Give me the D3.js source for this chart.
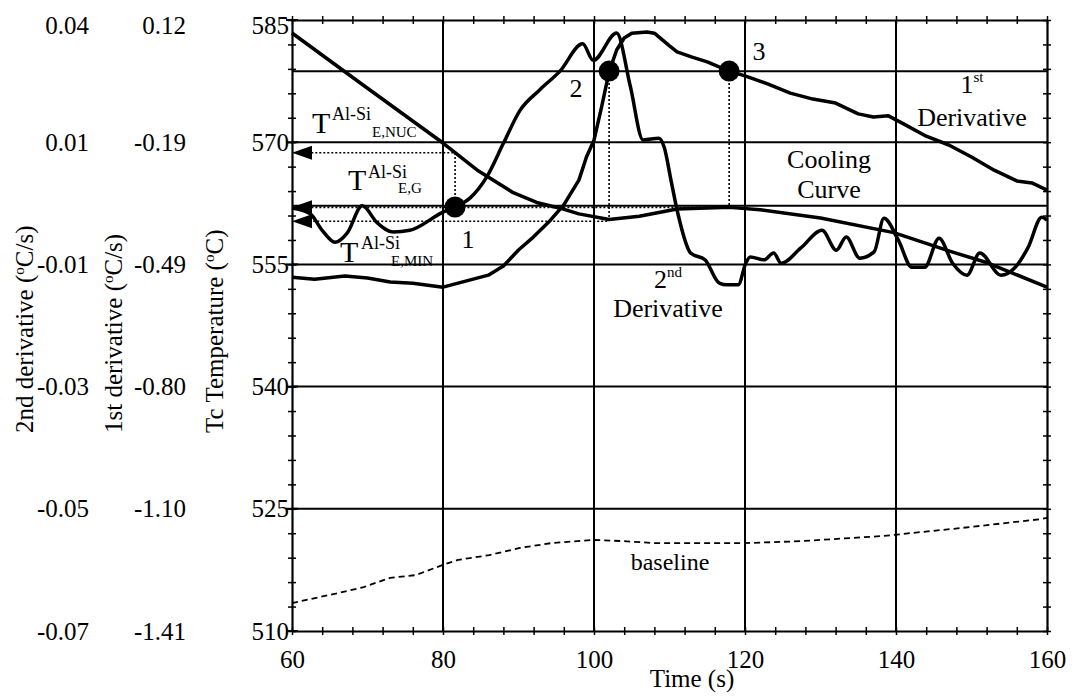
<!DOCTYPE html>
<html>
<head>
<meta charset="utf-8">
<script src="https://cdn.jsdelivr.net/npm/d3@7"></script>
<style>
body { margin: 0; background: #fff; }
text { font-family: "Liberation Serif", "Times New Roman", serif; fill: #000; }
</style>
</head>
<body>
<svg id="chart" width="1078" height="697"></svg>
<script>
// axis ticks and labels
var tempTicks = [510, 525, 540, 555, 570, 585];
var d1Labels = ["-1.41", "-1.10", "-0.80", "-0.49", "-0.19", "0.12"];
var d2Labels = ["-0.07", "-0.05", "-0.03", "-0.01", "0.01", "0.04"];
var timeTicks = [60, 80, 100, 120, 140, 160];

// cooling curve (degC)
var coolTime = [60, 69, 80, 84.5, 89.3, 92.4, 95.5, 98, 102, 106, 111, 118, 122, 130, 139.7, 147.2, 152.1, 160];
var coolTemp = [583.4, 577.3, 569.9, 566.6, 563.8, 562.6, 561.9, 561.2, 560.5, 560.9, 561.8, 562.0, 561.7, 560.7, 558.9, 556.6, 555.2, 552.2];

// 1st derivative (degC/s)
var d1Time = [60, 63, 67, 70, 73, 76, 80, 83, 86, 88, 90, 92, 94, 96, 98, 99, 100, 101, 102, 103,
  104, 105, 107, 108, 110, 111, 113, 115, 117.9, 120, 123, 126, 129, 132, 135, 137, 139, 141, 144, 147,
  150, 153, 156, 158, 160];
var d1Value = [-0.524, -0.529, -0.521, -0.526, -0.536, -0.539, -0.549, -0.534, -0.519, -0.496,
  -0.456, -0.423, -0.386, -0.343, -0.281, -0.223, -0.181, -0.098, -0.010, 0.045,
  0.075, 0.087, 0.090, 0.087, 0.055, 0.040, 0.027, 0.015, -0.008, -0.020,
  -0.040, -0.063, -0.078, -0.088, -0.115, -0.123, -0.120, -0.140, -0.171, -0.193,
  -0.223, -0.256, -0.283, -0.288, -0.306];

// 2nd derivative (degC/s2)
var d2Time = [60, 62.4, 64, 65.7, 67.3, 69.3, 71.3, 73.4, 75.6, 80,
  81.6, 83.6, 85.8, 88, 90.2, 92.8, 95.5, 98.5, 99.9, 103,
  104.8, 106.5, 108.6, 109.3, 110.2, 111.1, 112.8, 114.7, 116.6, 117.6,
  119.1, 120.1, 120.7, 122.5, 123.8, 124.8, 127.4, 130.2, 132.1, 133.4,
  135.2, 137.1, 138.4, 140.3, 142.1, 143.8, 145.7, 147.5, 149.4, 151.1,
  153.9, 155.8, 157.5, 159.3, 160];
var d2Value = [0.0029, 0.0019, -0.0010, -0.0031, -0.0015, 0.0033, 0.0003, -0.0013, -0.0010, 0.0022,
  0.0031, 0.0047, 0.0084, 0.0143, 0.0201, 0.0237, 0.0270, 0.0318, 0.0289, 0.0337,
  0.0244, 0.0149, 0.0152, 0.0136, 0.0078, 0.0020, -0.0050, -0.0062, -0.0103, -0.0106,
  -0.0106, -0.0068, -0.0057, -0.0062, -0.0050, -0.0068, -0.0041, -0.0010, -0.0045, -0.0022,
  -0.0059, -0.0048, 0.0011, -0.0027, -0.0075, -0.0075, -0.0024, -0.0068, -0.0089, -0.0050,
  -0.0089, -0.0075, -0.0040, 0.0013, 0.0008];

// baseline of the 1st derivative (degC/s)
var baseTime = [60, 66.1, 69.5, 73, 76.4, 79.9, 82, 86.1, 90.2, 94.3, 99.9, 104, 108.1, 119.9, 127.4, 138.4, 141.9, 148.7, 159.1, 160];
var baseValue = [-1.340, -1.315, -1.300, -1.277, -1.270, -1.245, -1.232, -1.220, -1.202, -1.190,
  -1.182, -1.185, -1.190, -1.190, -1.185, -1.172, -1.165, -1.152, -1.130, -1.127];

// characteristic points 1, 2, 3 and their eutectic temperatures (NUC, MIN, G)
var markerTime = [81.6, 102.0, 117.9];
var markerSeries = ["d2", "d1", "d1"];
var markerValue = [0.0031, -0.008, -0.008];
var eutTemp = [568.7, 560.3, 562.0];
var refTemps = [578.7, 562.2];

var svg = d3.select("#chart");

var x = d3.scaleLinear().domain([60, 160]).range([292, 1047]);
var y = d3.scaleLinear().domain([510, 585]).range([631, 20]);
var yD1 = d3.scaleLinear().domain([-1.41, 0.12]).range([631, 20]);
var yD2 = d3.scaleLinear().domain([-0.0715, 0.036]).range([631, 20]);

var minorX = d3.range(60, 160.1, 4);
var minorY = d3.range(510, 585.1, 3);

// grid
var grid = svg.append("g").attr("stroke", "#000").attr("stroke-width", 2);
grid.selectAll("line.v").data(timeTicks.slice(1, -1)).enter().append("line")
  .attr("x1", d => x(d)).attr("x2", d => x(d)).attr("y1", y(585)).attr("y2", y(510));
grid.selectAll("line.h").data(tempTicks.slice(1, -1).concat(refTemps)).enter().append("line")
  .attr("x1", x(60)).attr("x2", x(160)).attr("y1", d => y(d)).attr("y2", d => y(d));

// frame axes with crossing minor ticks
function crossTicks(g, attr, len) {
  g.selectAll(".tick line").attr(attr, -len);
  g.selectAll(".tick text").remove();
  g.select(".domain").attr("stroke-width", 2.2);
}
svg.append("g").attr("transform", "translate(0," + y(510) + ")")
  .call(d3.axisBottom(x).tickValues(minorX).tickSize(4).tickSizeOuter(0)).call(crossTicks, "y1", 4);
svg.append("g").attr("transform", "translate(0," + y(585) + ")")
  .call(d3.axisTop(x).tickValues(minorX).tickSize(4).tickSizeOuter(0)).call(crossTicks, "y1", -4);
svg.append("g").attr("transform", "translate(" + x(60) + ",0)")
  .call(d3.axisLeft(y).tickValues(minorY).tickSize(4).tickSizeOuter(0)).call(crossTicks, "x1", -4);
svg.append("g").attr("transform", "translate(" + x(160) + ",0)")
  .call(d3.axisRight(y).tickValues(minorY).tickSize(4).tickSizeOuter(0)).call(crossTicks, "x1", 4);
svg.selectAll(".tick line").attr("stroke-width", 1.5);

// major ticks crossing the left axis
svg.append("g").selectAll("line").data(tempTicks).enter().append("line")
  .attr("x1", x(60) - 6).attr("x2", x(60) + 6).attr("y1", d => y(d)).attr("y2", d => y(d))
  .attr("stroke", "#000").attr("stroke-width", 2);

// tick labels
function labelAxis(g, size) {
  g.select(".domain").remove();
  g.selectAll(".tick line").remove();
  g.selectAll(".tick text").style("font-size", size + "px").attr("fill", "#000");
}
svg.append("g").attr("transform", "translate(0," + y(510) + ")")
  .call(d3.axisBottom(x).tickValues(timeTicks).tickSize(0).tickPadding(19)).call(labelAxis, 25);
svg.append("g").attr("transform", "translate(289,0)")
  .call(d3.axisLeft(y).tickValues(tempTicks).tickSize(0).tickPadding(0)).call(labelAxis, 25);
svg.append("g").attr("transform", "translate(186,0)")
  .call(d3.axisLeft(y).tickValues(tempTicks).tickSize(0).tickPadding(0)
    .tickFormat((d, i) => d1Labels[i])).call(labelAxis, 25);
svg.append("g").attr("transform", "translate(89,0)")
  .call(d3.axisLeft(y).tickValues(tempTicks).tickSize(0).tickPadding(0)
    .tickFormat((d, i) => d2Labels[i])).call(labelAxis, 25);
// the top row of labels sits a little below the frame
svg.selectAll(".tick").filter(d => d === 585).selectAll("text").attr("dy", "0.52em");

// axis titles
function rotTitle(tx, parts) {
  var t = svg.append("text").attr("transform", "translate(" + tx + ",433) rotate(-90)")
    .attr("text-anchor", "start").style("font-size", "25px");
  t.append("tspan").text(parts[0]);
  t.append("tspan").attr("dy", -9).style("font-size", "15px").text("o");
  t.append("tspan").attr("dy", 9).text(parts[1]);
}
rotTitle(33, ["2nd derivative (", "C/s)"]);
rotTitle(122, ["1st derivative (", "C/s)"]);
rotTitle(223, ["Tc Temperature (", "C)"]);
svg.append("text").attr("x", 692).attr("y", 687).attr("text-anchor", "middle")
  .style("font-size", "25px").text("Time (s)");

// curves
var curves = svg.append("g").attr("fill", "none").attr("stroke", "#000")
  .attr("stroke-linejoin", "round");
curves.append("path").datum(d3.zip(baseTime, baseValue))
  .attr("d", d3.line().x(d => x(d[0])).y(d => yD1(d[1])))
  .attr("stroke-width", 1.8).attr("stroke-dasharray", "6,4");
curves.append("path").datum(d3.zip(coolTime, coolTemp))
  .attr("d", d3.line().x(d => x(d[0])).y(d => y(d[1]))).attr("stroke-width", 3.5);
curves.append("path").datum(d3.zip(d1Time, d1Value))
  .attr("d", d3.line().x(d => x(d[0])).y(d => yD1(d[1]))).attr("stroke-width", 3.5);
curves.append("path").datum(d3.zip(d2Time, d2Value))
  .attr("d", d3.line().curve(d3.curveMonotoneX).x(d => x(d[0])).y(d => yD2(d[1])))
  .attr("stroke-width", 3.5);

// projections of the characteristic points
function markerY(i) {
  return markerSeries[i] === "d1" ? yD1(markerValue[i]) : yD2(markerValue[i]);
}
var ann = svg.append("g");
markerTime.forEach(function (t, i) {
  var px = x(t), py = markerY(i), ty = y(eutTemp[i]);
  ann.append("path")
    .attr("d", "M" + px + "," + py + "V" + ty + "H" + (x(60) + 20))
    .attr("fill", "none").attr("stroke", "#000").attr("stroke-width", 1.6)
    .attr("stroke-dasharray", "2,2");
  ann.append("path")
    .attr("d", "M" + x(60) + "," + ty + "L" + (x(60) + 20) + "," + (ty - 7) + "L" + (x(60) + 20) + "," + (ty + 7) + "Z")
    .attr("fill", "#000");
  ann.append("circle").attr("cx", px).attr("cy", py).attr("r", 10.5).attr("fill", "#000");
});

// point numbers
var numPos = [[468, 248], [576, 97], [759, 60]];
numPos.forEach(function (p, i) {
  svg.append("text").attr("x", p[0]).attr("y", p[1]).attr("text-anchor", "middle")
    .style("font-size", "26px").text(String(i + 1));
});

// T labels
function tLabel(xT, yT, xs, ys, xb, yb, sub) {
  svg.append("text").attr("x", xT).attr("y", yT).style("font-size", "30px").text("T");
  svg.append("text").attr("x", xs).attr("y", ys).style("font-size", "18px").text("Al-Si");
  svg.append("text").attr("x", xb).attr("y", yb).style("font-size", "15px").text(sub);
}
tLabel(312, 133, 332, 120, 372, 137, "E,NUC");
tLabel(348, 190, 368, 178, 398, 193, "E,G");
tLabel(340, 262, 361, 249, 391, 266, "E,MIN");

// curve names
function nameLabel(cx, y1, big, sup, y2, line2) {
  var t = svg.append("text").attr("x", cx).attr("y", y1).attr("text-anchor", "middle")
    .style("font-size", "26px");
  t.append("tspan").text(big);
  if (sup) t.append("tspan").attr("dy", -11).style("font-size", "15px").text(sup);
  svg.append("text").attr("x", cx).attr("y", y2).attr("text-anchor", "middle")
    .style("font-size", "26px").text(line2);
}
nameLabel(972, 93, "1", "st", 126, "Derivative");
nameLabel(829, 168, "Cooling", null, 198, "Curve");
nameLabel(668, 288, "2", "nd", 317, "Derivative");
svg.append("text").attr("x", 670).attr("y", 570).attr("text-anchor", "middle")
  .style("font-size", "24px").text("baseline");
</script>
</body>
</html>
